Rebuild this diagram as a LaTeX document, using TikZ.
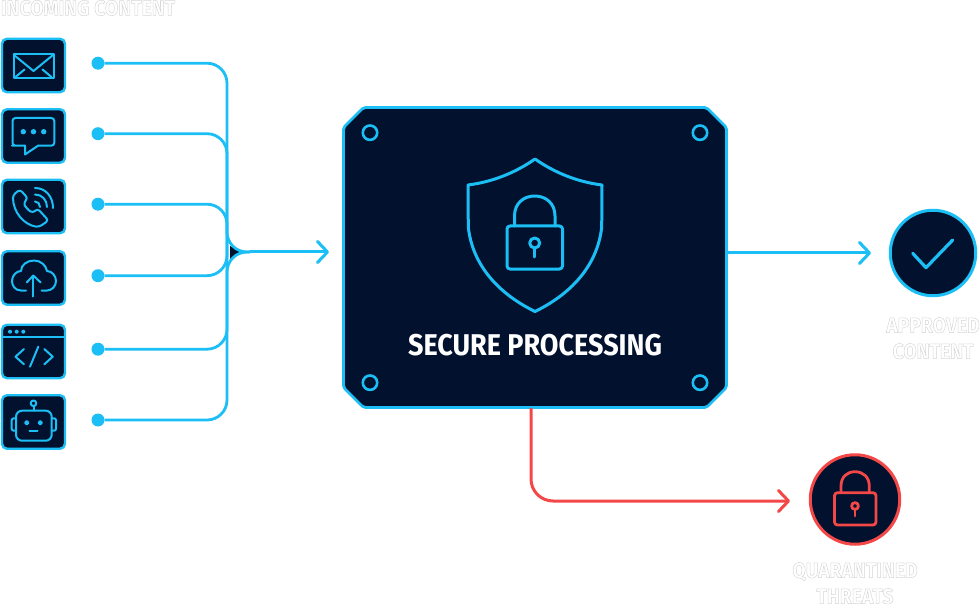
\documentclass[tikz,border=0pt]{standalone}
\usepackage{fontspec}
\usepackage{xcolor}
\usetikzlibrary{arrows.meta, positioning}
\newfontfamily\labelfont[FakeStretch=0.9]{Fira Sans}
\definecolor{wirecyan}{HTML}{1CBFF5}
\definecolor{panelnavy}{HTML}{02122E}
\definecolor{alertred}{HTML}{F44747}
\newcommand{\ghost}[1]{\special{pdf:code q 1 Tr 0.5 w 0.84 G}#1\special{pdf:code Q}}
\tikzset{
    iconbox/.style={draw=wirecyan, fill=panelnavy, line width=2.4pt, rounded corners=5pt, minimum width=63pt, minimum height=53.5pt, inner sep=0pt, outer sep=0pt},
    tapdot/.style={circle, fill=wirecyan, minimum size=13pt, inner sep=0pt, outer sep=0pt},
    wire/.style={draw=wirecyan, line width=2.8pt, rounded corners=20pt},
    flow/.style={draw=wirecyan, line width=3pt, line cap=round, -{Straight Barb[length=10pt, width=21pt, round]}},
    redflow/.style={draw=alertred, line width=3pt, rounded corners=22pt, -{Straight Barb[length=10pt, width=21pt, round]}},
    glyph/.style={draw=wirecyan, line width=2pt, line cap=round, line join=round},
    bigglyph/.style={draw=wirecyan, line width=3pt, line cap=round, line join=round},
    redglyph/.style={draw=alertred, line width=2.8pt, line cap=round, line join=round},
    caption/.style={font=\labelfont\bfseries\fontsize{21.5}{26}\selectfont, align=center, inner sep=0pt},
}
\begin{document}
\begin{tikzpicture}[x=1pt, y=-1pt]
        \useasboundingbox (0,0) rectangle (980,604);

        \node[caption] (incoming) at (88,8) {\ghost{INCOMING CONTENT}};

        \node[iconbox]                 (mail)  at (33.5,65.5) {};
        \node[iconbox, below=17pt of mail]  (chat)  {};
        \node[iconbox, below=17pt of chat]  (phone) {};
        \node[iconbox, below=18pt of phone] (cloud) {};
        \node[iconbox, below=20pt of cloud] (code)  {};
        \node[iconbox, below=17pt of code]  (robot) {};

        \node[tapdot, right=26.5pt of mail,  yshift=2.3pt] (tapmail)  {};
        \node[tapdot, right=26.5pt of chat,  yshift=2.3pt] (tapchat)  {};
        \node[tapdot, right=26.5pt of phone, yshift=2.3pt] (tapphone) {};
        \node[tapdot, right=26.5pt of cloud, yshift=2.3pt] (tapcloud) {};
        \node[tapdot, right=26.5pt of code,  yshift=2.3pt] (tapcode)  {};
        \node[tapdot, right=26.5pt of robot, yshift=2pt] (taprobot) {};

        \node[minimum width=383pt, minimum height=300pt, inner sep=0pt, outer sep=0pt] (hub) at (535,257.5) {};
        \draw[draw=wirecyan, fill=panelnavy, line width=2.8pt, line join=round, rounded corners=2pt]
            ([xshift=20pt]hub.north west) -- ([xshift=-20pt]hub.north east)
            -- ([yshift=-20pt]hub.north east) -- ([yshift=20pt]hub.south east)
            -- ([xshift=-20pt]hub.south east) -- ([xshift=20pt]hub.south west)
            -- ([yshift=20pt]hub.south west) -- ([yshift=-20pt]hub.north west) -- cycle;
        \node[circle, draw=wirecyan, fill=panelnavy, line width=3pt, minimum size=85.5pt, inner sep=0pt, outer sep=0pt] (approved) at (933,253) {};
        \node[circle, draw=alertred, fill=panelnavy, line width=3pt, minimum size=89.5pt, inner sep=0pt, outer sep=0pt] (quarantine) at (855,499.5) {};

        \node[font=\labelfont\bfseries\fontsize{30}{36}\selectfont, text=white, inner sep=0pt] (hubtitle) at (535,345) {SECURE PROCESSING};
        \node[caption, below=21.5pt of approved] (approvedlabel) {\ghost{APPROVED}\\\ghost{CONTENT}};
        \node[caption, below=18pt of quarantine] (quarantinelabel) {\ghost{QUARANTINED}\\\ghost{THREATS}};

        \coordinate (trunk) at (227,252);
        \coordinate (merge) at (250,252);
        \coordinate (inlet) at (329,252);
        \coordinate (outlet) at (871,253);
        \coordinate (drop) at (531,408);
        \coordinate (redin) at (790,501);

        \fill[panelnavy] (230,246) -- (243,252) -- (230,259) -- cycle;
        \draw[wire] (tapchat) -| (trunk);
        \draw[wire] (tapphone) -| (trunk);
        \draw[wire] (tapcloud) -| (trunk);
        \draw[wire] (tapcode) -| (trunk);
        \draw[wire] (tapmail) -| (trunk) -- (merge);
        \draw[wire] (taprobot) -| (trunk) -- (merge);
        \draw[flow] (merge) -- (inlet);
        \draw[flow] (outlet -| hub.east) -- (outlet);
        \draw[redflow] (drop) |- (redin);

        \draw[glyph] (13.5,54.5) rectangle (53.5,78);
        \draw[glyph] (14,55) -- (33.5,71) -- (53,55);
        \draw[glyph] (15.5,77) -- (24.5,69.5) (51.5,77) -- (42.5,69.5);

        \draw[glyph, rounded corners=3pt] (25,145.7) -- (15,145.7) -- (12.5,145.7) -- (12.5,118) -- (54.3,118) -- (54.3,145.7) -- (38,145.7);
        \draw[glyph] (25,145.7) -- (25,154.5) -- (38,145.7);
        \foreach \dotx in {23.3,33.5,43.7}
            \fill[wirecyan] (\dotx,131.7) circle (2.7pt);

        \draw[glyph, rounded corners=3pt] (20,189.5) -- (13,195) .. controls (13,212) and (24,225) .. (39,227) -- (48.5,220.5) -- (37.5,208.5) -- (33,213) .. controls (28,210) and (25,206) .. (23.5,202.5) -- (28,198.5) -- cycle;
        \draw[glyph] (35,188) .. controls (46,188) and (53,197) .. (53,208);
        \draw[glyph] (35,194.5) .. controls (42,194.5) and (47,200) .. (47,207);
        \draw[glyph] (35,201.5) .. controls (38,201.5) and (40,204) .. (40,207);

        \draw[glyph] (26,290.5) -- (21,290.5) .. controls (15,290.5) and (12,285.5) .. (12,281) .. controls (12,275) and (17,271) .. (21,271) .. controls (21,265) and (27,260.5) .. (34,260.5) .. controls (41,260.5) and (46,265.5) .. (47,271) .. controls (52,271) and (56,276) .. (56,281) .. controls (56,286) and (52,290.5) .. (47,290.5) -- (41.7,290.5);
        \draw[glyph] (33.3,296.5) -- (33.3,275.5);
        \draw[glyph] (26.7,282.5) -- (33.3,275.5) -- (40.7,282.5);

        \draw[glyph] (code.west |- 0,337) -- (code.east |- 0,337);
        \foreach \dotx in {10,16.7,23.3}
            \fill[wirecyan] (\dotx,331.7) circle (2pt);
        \draw[glyph] (24,349) -- (15.5,356.7) -- (24,364.3);
        \draw[glyph] (44.3,349) -- (52.7,356.7) -- (44.3,364.3);
        \draw[glyph] (38.3,346.7) -- (30,366.7);

        \draw[glyph, rounded corners=6pt] (16,410.7) rectangle (51.7,440.7);
        \draw[glyph, rounded corners=2pt] (16,418.3) -- (11.7,418.3) -- (11.7,430.7) -- (16,430.7);
        \draw[glyph, rounded corners=2pt] (51.7,418.3) -- (56,418.3) -- (56,430.7) -- (51.7,430.7);
        \draw[glyph] (33.5,406.3) -- (33.5,410.7);
        \draw[glyph] (33.5,403.3) circle (2.8pt);
        \draw[glyph] (26.7,422.7) circle (1.7pt) (40.3,422.7) circle (1.7pt);
        \draw[glyph] (29.5,431.3) -- (37.5,431.3);

        \foreach \boltx in {370,700}
            \foreach \bolty in {132.7,382.7}
                \draw[draw=wirecyan, line width=2.6pt] (\boltx,\bolty) circle (7.2pt);

        \draw[bigglyph] (535,159) .. controls (515,173) and (492,182) .. (468,185) -- (468.3,227) .. controls (472,262) and (495,292) .. (535,311.5) .. controls (575,292) and (598,262) .. (601.7,227) -- (602,185) .. controls (578,182) and (555,173) .. (535,159) -- cycle;
        \draw[bigglyph, rounded corners=3pt] (507,226) rectangle (562.5,269);
        \draw[bigglyph] (514.5,226) -- (514.5,216) .. controls (514.5,203) and (524,196) .. (534.7,196) .. controls (545.5,196) and (555,203) .. (555,216) -- (555,226);
        \draw[bigglyph] (534.7,243) circle (5pt);
        \draw[bigglyph] (534.7,248) -- (534.7,257);

        \draw[bigglyph, line width=3.2pt] (912.7,253.3) -- (926,267.7) -- (952.7,240);

        \draw[redglyph, rounded corners=3pt] (834.5,492.7) rectangle (876,525);
        \draw[redglyph] (841,492.7) -- (841,486) .. controls (841,477) and (847,471.7) .. (855,471.7) .. controls (863,471.7) and (869.3,477) .. (869.3,486) -- (869.3,492.7);
        \draw[redglyph] (855,506) circle (3.4pt);
        \draw[redglyph] (855,509.5) -- (855,516);
\end{tikzpicture}
\end{document}
